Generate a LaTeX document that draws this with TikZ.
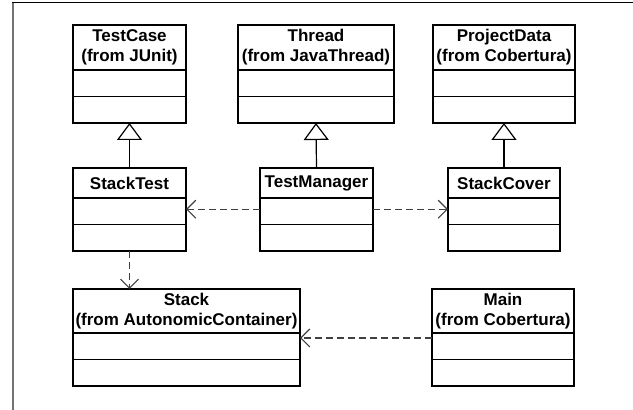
\documentclass[tikz,border=0pt]{standalone}
\usepackage{fontspec}
\setmainfont{Liberation Sans}
\usetikzlibrary{arrows.meta,positioning}

\begin{document}
\begin{tikzpicture}[
  x=1pt, y=1pt,
  classhead/.style={draw, line width=1.5pt, outer sep=0pt, inner sep=2pt, align=center,
    font=\bfseries\fontsize{17}{20}\selectfont},
  classpart/.style={draw, line width=1.5pt, outer sep=0pt, minimum height=26.5pt},
  inherit/.style={-{Triangle[open, length=17pt, width=25pt]}, line width=1.2pt},
  dep/.style={-{Straight Barb[length=9pt, width=18pt]}, line width=1.1pt, draw=black!75,
    dash pattern=on 7pt off 4pt}
]

\useasboundingbox (0,0) rectangle (633,410);

% Frame: grey left edge, black top edge.
\draw[black!55, line width=2pt] (13,0) -- (13,407.5);
\draw[black, line width=1.2pt] (12,407.5) -- (633,407.5);

% Library classes along the top.
\node[classhead, minimum width=113pt, minimum height=45pt, anchor=north] (testcase) at (129.5,385) {TestCase\\(from JUnit)};
\node[classpart, minimum width=113pt, below=0pt of testcase] (testcase-attr) {};
\node[classpart, minimum width=113pt, below=0pt of testcase-attr] (testcase-ops) {};

\node[classhead, minimum width=156pt, minimum height=45pt, anchor=north] (thread) at (316,385) {Thread\\(from JavaThread)};
\node[classpart, minimum width=156pt, below=0pt of thread] (thread-attr) {};
\node[classpart, minimum width=156pt, below=0pt of thread-attr] (thread-ops) {};

\node[classhead, minimum width=142pt, minimum height=45pt, anchor=north] (projectdata) at (504,385) {ProjectData\\(from Cobertura)};
\node[classpart, minimum width=142pt, below=0pt of projectdata] (projectdata-attr) {};
\node[classpart, minimum width=142pt, below=0pt of projectdata-attr] (projectdata-ops) {};

% Test classes in the middle row.
\node[classhead, minimum width=113pt, minimum height=30pt, anchor=north] (stacktest) at (129.5,242) {StackTest};
\node[classpart, minimum width=113pt, below=0pt of stacktest] (stacktest-attr) {};
\node[classpart, minimum width=113pt, below=0pt of stacktest-attr] (stacktest-ops) {};

\node[classhead, minimum width=113pt, minimum height=30pt, anchor=north] (testmanager) at (316.5,242) {TestManager};
\node[classpart, minimum width=113pt, below=0pt of testmanager] (testmanager-attr) {};
\node[classpart, minimum width=113pt, below=0pt of testmanager-attr] (testmanager-ops) {};

\node[classhead, minimum width=112pt, minimum height=30pt, anchor=north] (stackcover) at (504,242) {StackCover};
\node[classpart, minimum width=112pt, below=0pt of stackcover] (stackcover-attr) {};
\node[classpart, minimum width=112pt, below=0pt of stackcover-attr] (stackcover-ops) {};

% Bottom row.
\node[classhead, minimum width=227pt, minimum height=44pt, anchor=north] (stack) at (186.5,121) {Stack\\(from AutonomicContainer)};
\node[classpart, minimum width=227pt, below=0pt of stack] (stack-attr) {};
\node[classpart, minimum width=227pt, below=0pt of stack-attr] (stack-ops) {};

\node[classhead, minimum width=142pt, minimum height=44pt, anchor=north] (main) at (503,121) {Main\\(from Cobertura)};
\node[classpart, minimum width=142pt, below=0pt of main] (main-attr) {};
\node[classpart, minimum width=142pt, below=0pt of main-attr] (main-ops) {};

% Generalisations.
\draw[inherit] (stacktest.north) -- (testcase-ops.south);
\draw[inherit] (testmanager.north) -- (thread-ops.south);
\draw[inherit] (stackcover.north) -- (projectdata-ops.south);

% Dependencies.
\draw[dep] ([yshift=2pt]testmanager-attr.west) -- ([yshift=2pt]stacktest-attr.east);
\draw[dep] ([yshift=2pt]testmanager-attr.east) -- ([yshift=2pt]stackcover-attr.west);
\draw[dep] (stacktest-ops.south) -- (stacktest-ops.south |- stack.north);
\draw[dep] ([yshift=-5pt]main-attr.north west) -- ([yshift=-5pt]main-attr.north west -| stack-attr.east);

\end{tikzpicture}
\end{document}
